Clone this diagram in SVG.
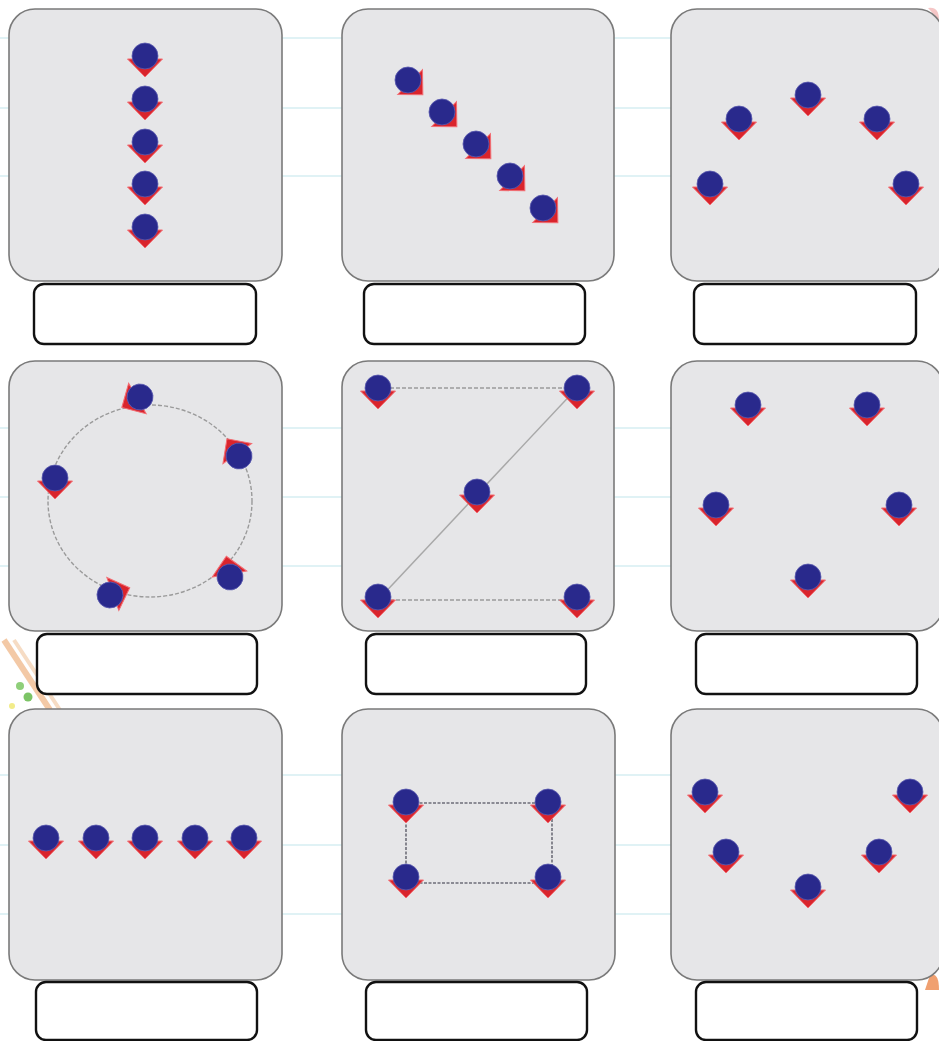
<svg xmlns="http://www.w3.org/2000/svg" xmlns:xlink="http://www.w3.org/1999/xlink" width="939" height="1041" viewBox="0 0 939 1041">
<style>
.paper{fill:#ffffff}
.rule{stroke:#d6eef2;stroke-width:1.5}
.panel{fill:#e6e6e8;stroke:#7a7a7a;stroke-width:1.6}
.label{fill:#ffffff;stroke:#111111;stroke-width:2.4}
.dash{fill:none;stroke:#9a9a9a;stroke-width:1.4;stroke-dasharray:4 2}
.dashdark{fill:none;stroke:#6e6e78;stroke-width:1.6;stroke-dasharray:3 1.5}
.solid{fill:none;stroke:#a8a8a8;stroke-width:1.5}
</style>
<defs>
<g id="fig">
<polygon points="-17.5,3 17.5,3 0,21" fill="#d9242c" stroke="#f26d73" stroke-width="1"/>
<circle cx="0" cy="0" r="13" fill="#29298c" stroke="#5a5ab0" stroke-width="0.8"/>
</g>
</defs>
<rect class="paper" x="0" y="0" width="939" height="1041"/>
<g id="background">
<line class="rule" x1="0" y1="38" x2="939" y2="38"/>
<line class="rule" x1="0" y1="108" x2="939" y2="108"/>
<line class="rule" x1="0" y1="176" x2="939" y2="176"/>
<line class="rule" x1="0" y1="428" x2="939" y2="428"/>
<line class="rule" x1="0" y1="497" x2="939" y2="497"/>
<line class="rule" x1="0" y1="566" x2="939" y2="566"/>
<line class="rule" x1="0" y1="775" x2="939" y2="775"/>
<line class="rule" x1="0" y1="845" x2="939" y2="845"/>
<line class="rule" x1="0" y1="914" x2="939" y2="914"/>
<line x1="4" y1="640" x2="50" y2="710" stroke="#f3c9a6" stroke-width="6"/>
<line x1="14" y1="640" x2="60" y2="710" stroke="#f6dcc4" stroke-width="4"/>
<circle cx="20" cy="686" r="4" fill="#8fcf7a"/>
<circle cx="28" cy="697" r="4.5" fill="#7cc466"/>
<circle cx="12" cy="706" r="3" fill="#f2ec8a"/>
<path d="M930,975 Q939,972 939,990 L925,990 Z" fill="#f0a070"/>
<path d="M928,8 Q939,6 939,20 Z" fill="#f5c6c6"/>
</g>
<g id="panel-1">
<rect class="panel" x="9" y="9" width="273" height="272" rx="26"/>
<use xlink:href="#fig" transform="translate(145,56)"/>
<use xlink:href="#fig" transform="translate(145,99)"/>
<use xlink:href="#fig" transform="translate(145,142)"/>
<use xlink:href="#fig" transform="translate(145,184)"/>
<use xlink:href="#fig" transform="translate(145,227)"/>
<rect class="label" x="34" y="284" width="222" height="60" rx="10"/>
</g>
<g id="panel-2">
<rect class="panel" x="342" y="9" width="272" height="272" rx="26"/>
<use xlink:href="#fig" transform="translate(408,80) rotate(-45)"/>
<use xlink:href="#fig" transform="translate(442,112) rotate(-45)"/>
<use xlink:href="#fig" transform="translate(476,144) rotate(-45)"/>
<use xlink:href="#fig" transform="translate(510,176) rotate(-45)"/>
<use xlink:href="#fig" transform="translate(543,208) rotate(-45)"/>
<rect class="label" x="364" y="284" width="221" height="60" rx="10"/>
</g>
<g id="panel-3">
<rect class="panel" x="671" y="9" width="272" height="272" rx="26"/>
<use xlink:href="#fig" transform="translate(710,184)"/>
<use xlink:href="#fig" transform="translate(739,119)"/>
<use xlink:href="#fig" transform="translate(808,95)"/>
<use xlink:href="#fig" transform="translate(877,119)"/>
<use xlink:href="#fig" transform="translate(906,184)"/>
<rect class="label" x="694" y="284" width="222" height="60" rx="10"/>
</g>
<g id="panel-4">
<rect class="panel" x="9" y="361" width="273" height="270" rx="26"/>
<rect class="label" x="37" y="634" width="220" height="60" rx="10"/>
</g>
<g id="panel-5">
<rect class="panel" x="342" y="361" width="272" height="270" rx="26"/>
<rect class="label" x="366" y="634" width="220" height="60" rx="10"/>
</g>
<g id="panel-6">
<rect class="panel" x="671" y="361" width="272" height="270" rx="26"/>
<use xlink:href="#fig" transform="translate(748,405)"/>
<use xlink:href="#fig" transform="translate(867,405)"/>
<use xlink:href="#fig" transform="translate(716,505)"/>
<use xlink:href="#fig" transform="translate(899,505)"/>
<use xlink:href="#fig" transform="translate(808,577)"/>
<rect class="label" x="696" y="634" width="221" height="60" rx="10"/>
</g>
<g id="panel-7">
<rect class="panel" x="9" y="709" width="273" height="271" rx="26"/>
<use xlink:href="#fig" transform="translate(46,838)"/>
<use xlink:href="#fig" transform="translate(96,838)"/>
<use xlink:href="#fig" transform="translate(145,838)"/>
<use xlink:href="#fig" transform="translate(195,838)"/>
<use xlink:href="#fig" transform="translate(244,838)"/>
<rect class="label" x="36" y="982" width="221" height="58" rx="10"/>
</g>
<g id="panel-8">
<rect class="panel" x="342" y="709" width="273" height="271" rx="26"/>
<rect class="label" x="366" y="982" width="221" height="58" rx="10"/>
</g>
<g id="panel-9">
<rect class="panel" x="671" y="709" width="272" height="271" rx="26"/>
<use xlink:href="#fig" transform="translate(705,792)"/>
<use xlink:href="#fig" transform="translate(910,792)"/>
<use xlink:href="#fig" transform="translate(726,852)"/>
<use xlink:href="#fig" transform="translate(879,852)"/>
<use xlink:href="#fig" transform="translate(808,887)"/>
<rect class="label" x="696" y="982" width="221" height="58" rx="10"/>
</g>
<g id="connectors">
<ellipse class="dash" cx="150" cy="501" rx="102" ry="96"/>
<line class="dash" x1="378" y1="388" x2="577" y2="388"/>
<line class="dash" x1="378" y1="600" x2="577" y2="600"/>
<line class="solid" x1="378" y1="600" x2="577" y2="388"/>
<rect class="dashdark" x="406" y="803" width="146" height="80"/>
</g>
<g id="panel-4-figures">
<use xlink:href="#fig" transform="translate(140,397) rotate(60)"/>
<use xlink:href="#fig" transform="translate(239,456) rotate(145)"/>
<use xlink:href="#fig" transform="translate(55,478)"/>
<use xlink:href="#fig" transform="translate(230,577) rotate(170)"/>
<use xlink:href="#fig" transform="translate(110,595) rotate(-110)"/>
</g>
<g id="panel-5-figures">
<use xlink:href="#fig" transform="translate(378,388)"/>
<use xlink:href="#fig" transform="translate(577,388)"/>
<use xlink:href="#fig" transform="translate(477,492)"/>
<use xlink:href="#fig" transform="translate(378,597)"/>
<use xlink:href="#fig" transform="translate(577,597)"/>
</g>
<g id="panel-8-figures">
<use xlink:href="#fig" transform="translate(406,802)"/>
<use xlink:href="#fig" transform="translate(548,802)"/>
<use xlink:href="#fig" transform="translate(406,877)"/>
<use xlink:href="#fig" transform="translate(548,877)"/>
</g>
</svg>
